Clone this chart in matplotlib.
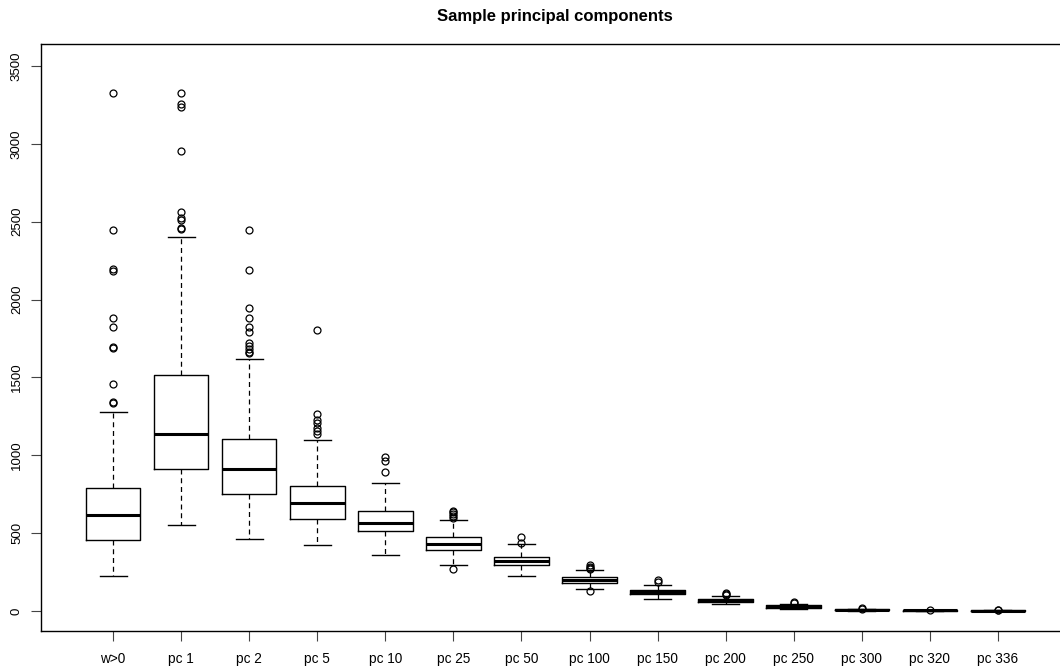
import matplotlib
matplotlib.use("Agg")
import matplotlib.pyplot as plt

plt.rcParams['font.family'] = ['Liberation Sans', 'DejaVu Sans']

labels = ["w>0", "pc 1", "pc 2", "pc 5", "pc 10", "pc 25", "pc 50", "pc 100",
          "pc 150", "pc 200", "pc 250", "pc 300", "pc 320", "pc 336"]
q1 = [456, 910, 753, 593, 514, 394, 293, 180, 109, 58, 21, 4, 3, 2]
med = [617, 1139, 912, 691, 563, 428, 319, 197, 122, 69, 28, 8, 5, 3]
q3 = [788, 1514, 1107, 805, 640, 473, 349, 216, 137, 79, 36, 11, 7, 5]
whislo = [225, 554, 464, 426, 360, 295, 225, 141, 79, 43, 15, 2, 1, 0]
whishi = [1276, 2404, 1616, 1096, 824, 584, 428, 263, 167, 96, 45, 15, 10, 8]
fliers = [
    [3325, 2447, 2195, 2185, 1884, 1822, 1695, 1690, 1458, 1342, 1338],
    [3325, 3256, 3239, 2952, 2565, 2526, 2511, 2462, 2455],
    [2447, 2190, 1944, 1884, 1822, 1792, 1723, 1702, 1681, 1665, 1655],
    [1805, 1263, 1227, 1205, 1177, 1156, 1139],
    [987, 961, 895],
    [268, 645, 634, 621, 608, 598],
    [473, 437],
    [128, 293, 285, 278, 272],
    [199, 184],
    [118, 110, 104],
    [56, 49],
    [17, 13],
    [9],
    [5, 4],
]
title = "Sample principal components"
yticks = [0, 500, 1000, 1500, 2000, 2500, 3000, 3500]

stats = []
for i in range(len(labels)):
    stats.append(dict(label=labels[i], q1=q1[i], med=med[i], q3=q3[i],
                      whislo=whislo[i], whishi=whishi[i], fliers=fliers[i]))

W, H = 1060, 671
fig = plt.figure(figsize=(W / 100, H / 100), dpi=100)
ax = fig.add_axes([41 / W, 1 - 631 / H, (1070 - 41) / W, (631 - 44) / H])

positions = list(range(1, len(labels) + 1))
ax.bxp(stats, positions=positions, widths=0.8, showfliers=True,
       boxprops=dict(color='black', linewidth=1.0),
       medianprops=dict(color='black', linewidth=2.2, solid_capstyle='butt'),
       whiskerprops=dict(color='black', linewidth=0.9, linestyle=(0, (4, 3))),
       capprops=dict(color='black', linewidth=1.0),
       capwidths=0.4,
       flierprops=dict(marker='o', markerfacecolor='none', markeredgecolor='black',
                       markersize=5.0, markeredgewidth=0.9, linestyle='none'))

ax.set_xlim(-0.06, 15.06)
ax.set_ylim(-128, 3641)
ax.set_xticks(positions)
ax.set_xticklabels(labels, fontsize=9.8)
ax.set_yticks(yticks)
ax.set_yticklabels([str(v) for v in yticks], fontsize=9.5, rotation=90, va='center')
ax.tick_params(axis='both', direction='out', length=7, width=0.8, color='#444444')
ax.tick_params(axis='x', pad=8)
ax.tick_params(axis='y', pad=6)
for s in ax.spines.values():
    s.set_linewidth(1.0)

fig.text(555 / W, 1 - 16 / H, title, ha='center', va='center',
         fontsize=12, fontweight='bold')

fig.savefig("out.png", dpi=100)
